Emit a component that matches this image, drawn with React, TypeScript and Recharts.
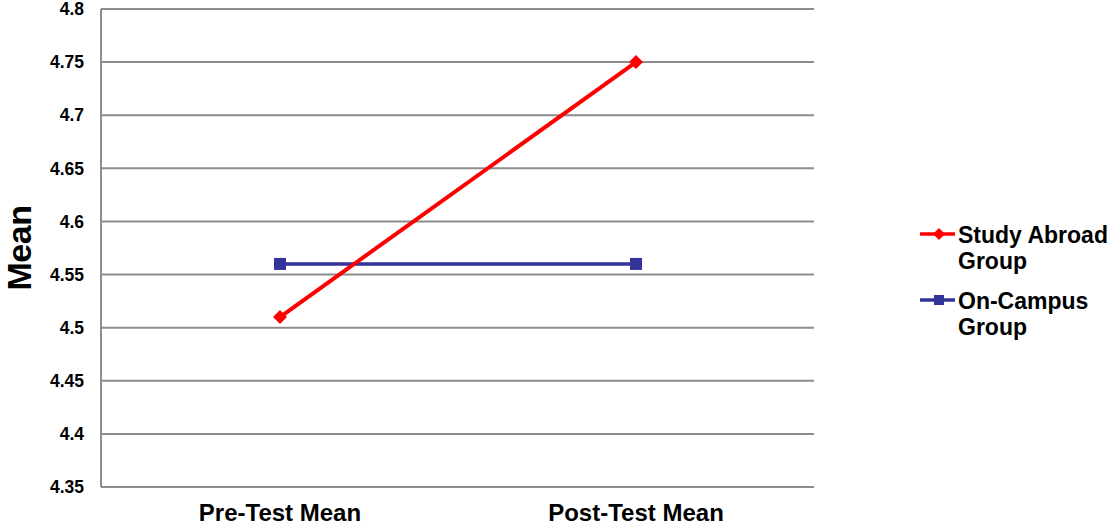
import * as React from "react";
import {
  LineChart,
  Line,
  XAxis,
  YAxis,
  CartesianGrid,
  Legend,
  Label,
} from "recharts";

const categories = ["Pre-Test Mean", "Post-Test Mean"];
const studyAbroad = [4.51, 4.75];
const onCampus = [4.56, 4.56];
const yTicks = [4.35, 4.4, 4.45, 4.5, 4.55, 4.6, 4.65, 4.7, 4.75, 4.8];
const seriesNames = [
  ["Study Abroad", "Group"],
  ["On-Campus", "Group"],
];

const RED = "#ff0000";
const NAVY = "#333399";
const GRID = "#8c8c8c";
const FONT = "'Liberation Sans', Arial, sans-serif";

const data = categories.map((name, i) => ({
  name,
  studyAbroad: studyAbroad[i],
  onCampus: onCampus[i],
}));

function Diamond({ cx, cy, r, fill }: { cx: number; cy: number; r: number; fill: string }) {
  return (
    <polygon
      points={`${cx},${cy - r} ${cx + r},${cy} ${cx},${cy + r} ${cx - r},${cy}`}
      fill={fill}
    />
  );
}

const diamondDot = (props: any) => {
  const { cx, cy, index } = props;
  if (cx == null || cy == null) return <g key={index} />;
  return <Diamond key={index} cx={cx} cy={cy} r={7} fill={RED} />;
};

const squareDot = (props: any) => {
  const { cx, cy, index } = props;
  if (cx == null || cy == null) return <g key={index} />;
  return <rect key={index} x={cx - 6} y={cy - 6} width={12} height={12} fill={NAVY} />;
};

function LegendBox() {
  const rows = [
    { color: RED, marker: "diamond", lines: seriesNames[0], y: 19 },
    { color: NAVY, marker: "square", lines: seriesNames[1], y: 85 },
  ];
  return (
    <svg width={200} height={130} style={{ display: "block" }}>
      {rows.map((row) => (
        <g key={row.lines[0]}>
          <line x1={8} x2={43} y1={row.y} y2={row.y} stroke={row.color} strokeWidth={3.5} />
          {row.marker === "diamond" ? (
            <Diamond cx={27} cy={row.y} r={6} fill={row.color} />
          ) : (
            <rect x={22} y={row.y - 5} width={10} height={10} fill={row.color} />
          )}
          {row.lines.map((t, j) => (
            <text
              key={t + j}
              x={46}
              y={row.y + 9 + j * 26}
              fontFamily={FONT}
              fontWeight="bold"
              fontSize={23}
              fill="#000"
            >
              {t}
            </text>
          ))}
        </g>
      ))}
    </svg>
  );
}

const meanTitle = (props: any) => {
  const vb = props.viewBox || { x: 0, y: 0, height: 0 };
  const cx = 31;
  const cy = vb.y + vb.height / 2;
  return (
    <text
      x={cx}
      y={cy}
      transform={`rotate(-90, ${cx}, ${cy})`}
      textAnchor="middle"
      fontFamily={FONT}
      fontWeight="bold"
      fontSize={34}
      letterSpacing={-0.5}
      fill="#000"
    >
      Mean
    </text>
  );
};

const categoryTick = (props: any) => {
  const { x, y, payload } = props;
  return (
    <text
      x={x}
      y={y + 15}
      dy="0.71em"
      textAnchor="middle"
      fontFamily={FONT}
      fontWeight="bold"
      fontSize={24}
      fill="#000"
    >
      {payload.value}
    </text>
  );
};

export default function App() {
  return (
    <div style={{ position: "absolute", left: 0, top: 0, width: 1112, height: 529, background: "#fff" }}>
      <LineChart
        width={1112}
        height={529}
        data={data}
        margin={{ top: 9, right: 298, bottom: 12, left: 0 }}
      >
        <CartesianGrid vertical={false} stroke={GRID} strokeWidth={2} />
        <XAxis
          dataKey="name"
          padding={{ left: 179, right: 178 }}
          axisLine={false}
          tickLine={false}
          tickSize={0}
          height={30}
          tick={categoryTick}
          interval={0}
        />
        <YAxis
          domain={[4.35, 4.8]}
          ticks={yTicks}
          width={101}
          axisLine={{ stroke: GRID, strokeWidth: 2 }}
          tickLine={false}
          tickSize={8}
          tickMargin={9}
          tick={{ fontFamily: FONT, fontWeight: "bold", fontSize: 17.5, fill: "#000" }}
          interval={0}
        >
          <Label content={meanTitle} />
        </YAxis>
        <Legend
          layout="vertical"
          align="center"
          verticalAlign="middle"
          wrapperStyle={{ left: 912, top: 215, width: 200 }}
          content={() => <LegendBox />}
        />
        <Line
          type="linear"
          dataKey="onCampus"
          name="On-Campus Group"
          stroke={NAVY}
          strokeWidth={3.5}
          dot={squareDot}
          activeDot={false}
          isAnimationActive={false}
        />
        <Line
          type="linear"
          dataKey="studyAbroad"
          name="Study Abroad Group"
          stroke={RED}
          strokeWidth={4}
          dot={diamondDot}
          activeDot={false}
          isAnimationActive={false}
        />
      </LineChart>
    </div>
  );
}
